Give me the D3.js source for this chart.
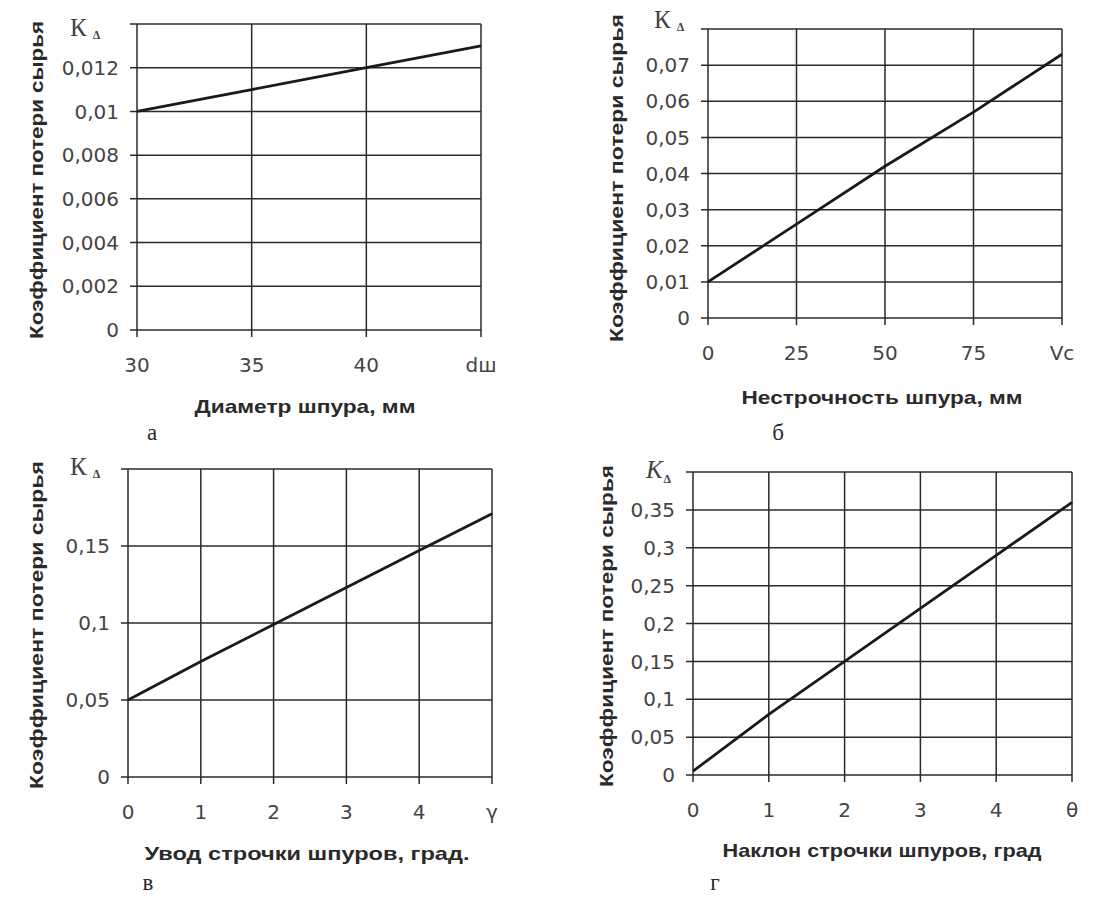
<!DOCTYPE html>
<html><head><meta charset="utf-8">
<script src="https://cdn.jsdelivr.net/npm/d3@7"></script>
<style>body{margin:0;background:#fff}svg{display:block}</style>
</head><body><svg id="c" width="1093" height="897"></svg>
<script>
// ---- data ----
const xA = [30, 35, 40, 45];
const yA = [0.010, 0.011, 0.012, 0.013];
const xTicksA = [30, 35, 40, 45];
const xTickLabelsA = ["30", "35", "40", "dш"];
const yTicksA = [0, 0.002, 0.004, 0.006, 0.008, 0.010, 0.012];
const yTickLabelsA = ["0", "0,002", "0,004", "0,006", "0,008", "0,01", "0,012"];

const xB = [0, 25, 50, 75, 100];
const yB = [0.010, 0.026, 0.042, 0.057, 0.073];
const xTicksB = [0, 25, 50, 75, 100];
const xTickLabelsB = ["0", "25", "50", "75", "Vc"];
const yTicksB = [0, 0.01, 0.02, 0.03, 0.04, 0.05, 0.06, 0.07];
const yTickLabelsB = ["0", "0,01", "0,02", "0,03", "0,04", "0,05", "0,06", "0,07"];

const xC = [0, 1, 2, 3, 4, 5];
const yC = [0.050, 0.075, 0.099, 0.123, 0.147, 0.171];
const xTicksC = [0, 1, 2, 3, 4, 5];
const xTickLabelsC = ["0", "1", "2", "3", "4", "γ"];
const yTicksC = [0, 0.05, 0.10, 0.15];
const yTickLabelsC = ["0", "0,05", "0,1", "0,15"];

const xD = [0, 1, 2, 3, 4, 5];
const yD = [0.005, 0.080, 0.150, 0.220, 0.290, 0.360];
const xTicksD = [0, 1, 2, 3, 4, 5];
const xTickLabelsD = ["0", "1", "2", "3", "4", "θ"];
const yTicksD = [0, 0.05, 0.10, 0.15, 0.20, 0.25, 0.30, 0.35];
const yTickLabelsD = ["0", "0,05", "0,1", "0,15", "0,2", "0,25", "0,3", "0,35"];

const yTitle = "Коэффициент потери сырья";
const xTitles = ["Диаметр шпура, мм", "Нестрочность шпура, мм", "Увод строчки шпуров, град.", "Наклон строчки шпуров, град"];
const panelLetters = ["а", "б", "в", "г"];

// ---- layout ----
const panels = [
  {x: xA, y: yA, xt: xTicksA, xl: xTickLabelsA, yt: yTicksA, yl: yTickLabelsA, xd: [30, 45], yd: [0, 0.014],
   L: 137, R: 481, T: 24, B: 330, ylx: 37, yly: 180, ylLen: 318, xtx: 305, xty: 406, xtLen: 221,
   letX: 152, letY: 440, kx: 70, ky: 36, italic: false},
  {x: xB, y: yB, xt: xTicksB, xl: xTickLabelsB, yt: yTicksB, yl: yTickLabelsB, xd: [0, 100], yd: [0, 0.08],
   L: 708, R: 1062, T: 29, B: 318, ylx: 617, yly: 178, ylLen: 328, xtx: 882, xty: 397, xtLen: 281,
   letX: 778, letY: 440, kx: 654, ky: 28, italic: false},
  {x: xC, y: yC, xt: xTicksC, xl: xTickLabelsC, yt: yTicksC, yl: yTickLabelsC, xd: [0, 5], yd: [0, 0.2],
   L: 128, R: 492, T: 469, B: 777, ylx: 37, yly: 625, ylLen: 328, xtx: 307, xty: 853, xtLen: 325,
   letX: 148, letY: 890, kx: 70, ky: 475, italic: false},
  {x: xD, y: yD, xt: xTicksD, xl: xTickLabelsD, yt: yTicksD, yl: yTickLabelsD, xd: [0, 5], yd: [0, 0.4],
   L: 693, R: 1072, T: 472, B: 775, ylx: 607, yly: 626, ylLen: 322, xtx: 882, xty: 850, xtLen: 319,
   letX: 715, letY: 890, kx: 646, ky: 478, italic: true}
];

const svg = d3.select("#c");
const ink = "#2a2a2a";
const tickFont = "DejaVu Sans, Verdana, sans-serif";

panels.forEach((p, i) => {
  const g = svg.append("g");
  const xs = d3.scaleLinear().domain(p.xd).range([p.L, p.R]);
  const ys = d3.scaleLinear().domain(p.yd).range([p.B, p.T]);

  const hVals = p.yt.concat([p.yd[1]]);
  g.selectAll(".h").data(hVals).join("line")
    .attr("x1", p.L - 7).attr("x2", p.R).attr("y1", d => ys(d)).attr("y2", d => ys(d))
    .attr("stroke", ink).attr("stroke-width", 1.5);
  g.selectAll(".v").data(p.xt).join("line")
    .attr("x1", d => xs(d)).attr("x2", d => xs(d)).attr("y1", p.T).attr("y2", p.B + 7)
    .attr("stroke", ink).attr("stroke-width", 1.5);

  g.selectAll(".yl").data(p.yt).join("text")
    .attr("x", p.L - 18).attr("y", d => ys(d)).attr("dy", "0.36em")
    .attr("text-anchor", "end").attr("font-family", tickFont)
    .attr("font-size", 20).attr("fill", "#444")
    .text((d, k) => p.yl[k]);
  g.selectAll(".xl").data(p.xt).join("text")
    .attr("x", d => xs(d)).attr("y", p.B + 42)
    .attr("text-anchor", "middle").attr("font-family", tickFont)
    .attr("font-size", 20).attr("fill", "#444")
    .text((d, k) => p.xl[k]);

  const line = d3.line().x(d => xs(d[0])).y(d => ys(d[1]));
  g.append("path").datum(p.x.map((v, k) => [v, p.y[k]]))
    .attr("d", line).attr("fill", "none").attr("stroke", "#1a1a1a").attr("stroke-width", 2.8);

  g.append("text")
    .attr("transform", `translate(${p.ylx},${p.yly}) rotate(-90)`)
    .attr("text-anchor", "middle").attr("dy", "0.35em")
    .attr("font-family", "Liberation Sans, Arial, sans-serif").attr("font-weight", "bold")
    .attr("font-size", 18).attr("fill", "#2a2a2a")
    .attr("textLength", p.ylLen).attr("lengthAdjust", "spacingAndGlyphs")
    .text(yTitle);
  g.append("text")
    .attr("x", p.xtx).attr("y", p.xty).attr("dy", "0.35em")
    .attr("text-anchor", "middle")
    .attr("font-family", "Liberation Sans, Arial, sans-serif").attr("font-weight", "bold")
    .attr("font-size", 19).attr("fill", "#2a2a2a")
    .attr("textLength", p.xtLen).attr("lengthAdjust", "spacingAndGlyphs")
    .text(xTitles[i]);
  g.append("text")
    .attr("x", p.letX).attr("y", p.letY).attr("text-anchor", "middle")
    .attr("font-family", "Liberation Serif, Times New Roman, serif")
    .attr("font-size", 23).attr("fill", "#2a2a2a")
    .text(panelLetters[i]);
  const k = g.append("text")
    .attr("x", p.kx).attr("y", p.ky)
    .attr("font-family", "Liberation Serif, Times New Roman, serif")
    .attr("font-size", 25).attr("fill", "#444")
    .attr("font-style", p.italic ? "italic" : "normal");
  k.append("tspan").text("К");
  k.append("tspan").attr("dx", p.italic ? 1 : 6).attr("dy", p.italic ? 5 : 3).attr("font-size", 12)
    .attr("font-weight", "bold").attr("font-style", "normal").text("Δ");
});
</script>
</body></html>
